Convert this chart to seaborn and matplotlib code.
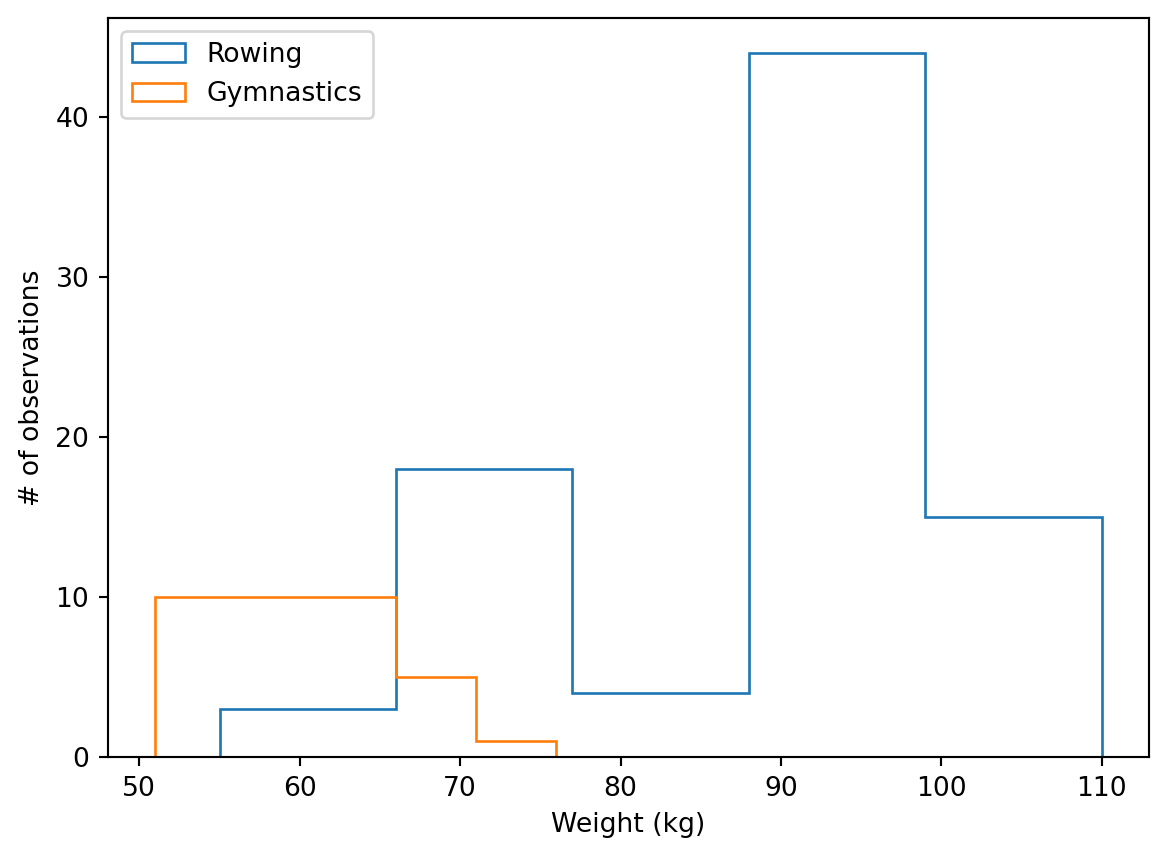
import numpy as np
import matplotlib
matplotlib.use("Agg")
import matplotlib.pyplot as plt
import seaborn as sns

# Histogram bin edges and counts
rowing_edges = [55, 66, 77, 88, 99, 110]
rowing_counts = [3, 18, 4, 44, 15]

gym_edges = [51, 66, 71, 76]
gym_counts = [10, 5, 1]

colors = sns.color_palette("tab10")

fig = plt.figure(figsize=(1169 / 192, 858 / 192), dpi=192)
ax = fig.add_axes([0.0924, 0.1177, 0.8906, 0.8613])

ax.hist(rowing_edges[:-1], bins=rowing_edges, weights=rowing_counts,
        histtype="step", color=colors[0], label="Rowing")
ax.hist(gym_edges[:-1], bins=gym_edges, weights=gym_counts,
        histtype="step", color=colors[1], label="Gymnastics")

ax.set_xlabel("Weight (kg)")
ax.set_ylabel("# of observations")
ax.legend(loc="upper left")

fig.savefig("out.png", dpi=192)
